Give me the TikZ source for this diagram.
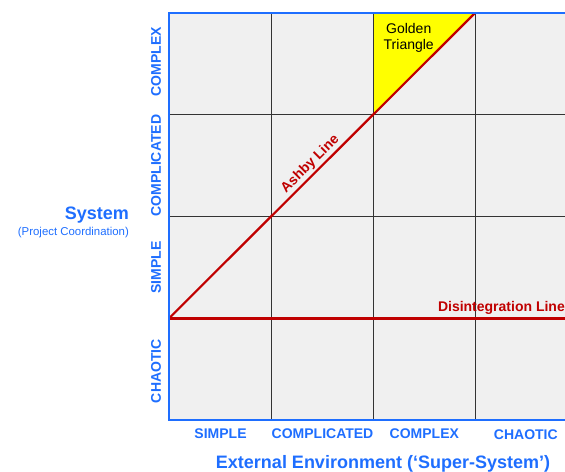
\documentclass[tikz,border=0pt]{standalone}
\usepackage{fontspec}
\setmainfont{Liberation Sans}
\usepackage{xcolor}
\usetikzlibrary{calc}
\definecolor{axisblue}{HTML}{1E6EFF}
\definecolor{linered}{HTML}{C00000}
\definecolor{cellgray}{HTML}{F0F0F0}
\definecolor{gold}{HTML}{FFFF00}
\tikzset{
  axis/.style={draw=axisblue, line width=2.2pt},
  gridl/.style={draw=black!80, line width=0.9pt},
  ashby/.style={draw=linered, line width=2.2pt},
  disint/.style={draw=linered, line width=3pt},
  lvl/.style={text=axisblue, font=\bfseries\fontsize{14}{16}\selectfont, inner sep=0pt},
  ttl/.style={text=axisblue, font=\bfseries\fontsize{18}{20}\selectfont, inner sep=0pt},
  sub/.style={text=axisblue, font=\fontsize{11.4}{13}\selectfont, inner sep=0pt},
  redlab/.style={text=linered, font=\bfseries\fontsize{14}{16}\selectfont, inner sep=0pt},
  blk/.style={text=black, font=\fontsize{14}{16}\selectfont, inner sep=0pt, align=center},
}
\begin{document}
\begin{tikzpicture}[x=102pt,y=101.75pt]
  \def\xr{3.882}
  \useasboundingbox (-1.657,-0.501) rectangle (\xr,4.128);
  \coordinate (O) at (0,1);
  \coordinate (A) at (3,4);
  \coordinate (G) at (2,3);
  \coordinate (D) at (\xr,1);
  % cells and golden triangle
  \fill[cellgray] (0,0) rectangle (\xr,4);
  \fill[gold] (G) -- (2,4) -- (A) -- cycle;
  \foreach \i in {1,2,3} {
    \draw[gridl] (\i,0) -- (\i,4);
    \draw[gridl] (0,\i) -- (\xr,\i);
  }
  % the two lines
  \draw[ashby] (O) -- (A);
  \draw[disint] (O) -- (D);
  \path (O) -- (A) node[redlab, pos=0.483, sloped, anchor=south, yshift=2.5pt] (ashbylab) {Ashby Line};
  \node[redlab, anchor=base east] (disintlab) at ($(D)+(0,7pt)$) {Disintegration Line};
  \node[blk, anchor=north] (golden) at (2.35,3.905) {Golden\\Triangle};
  % axes
  \draw[axis] (\xr,4) -- (0,4) -- (0,0) -- (\xr,0);
  % system levels
  \node[lvl, rotate=90] (ycomplex) at (-0.127,3.52) {COMPLEX};
  \node[lvl, rotate=90] (ycomplicated) at (-0.127,2.5) {COMPLICATED};
  \node[lvl, rotate=90] (ysimple) at (-0.127,1.5) {SIMPLE};
  \node[lvl, rotate=90] (ychaotic) at (-0.127,0.48) {CHAOTIC};
  % environment levels
  \node[lvl] (xsimple) at (0.505,-0.133) {SIMPLE};
  \node[lvl] (xcomplicated) at (1.505,-0.133) {COMPLICATED};
  \node[lvl] (xcomplex) at (2.503,-0.133) {COMPLEX};
  \node[lvl] (xchaotic) at (3.498,-0.147) {CHAOTIC};
  % axis titles
  \node[ttl, anchor=base] (xtitle) at (2.098,-0.472) {External Environment (‘Super-System’)};
  \node[ttl, anchor=base east] (ytitle) at (-0.392,1.975) {System};
  \node[sub, anchor=base east] (ysub) at (-0.392,1.818) {(Project Coordination)};
\end{tikzpicture}
\end{document}
